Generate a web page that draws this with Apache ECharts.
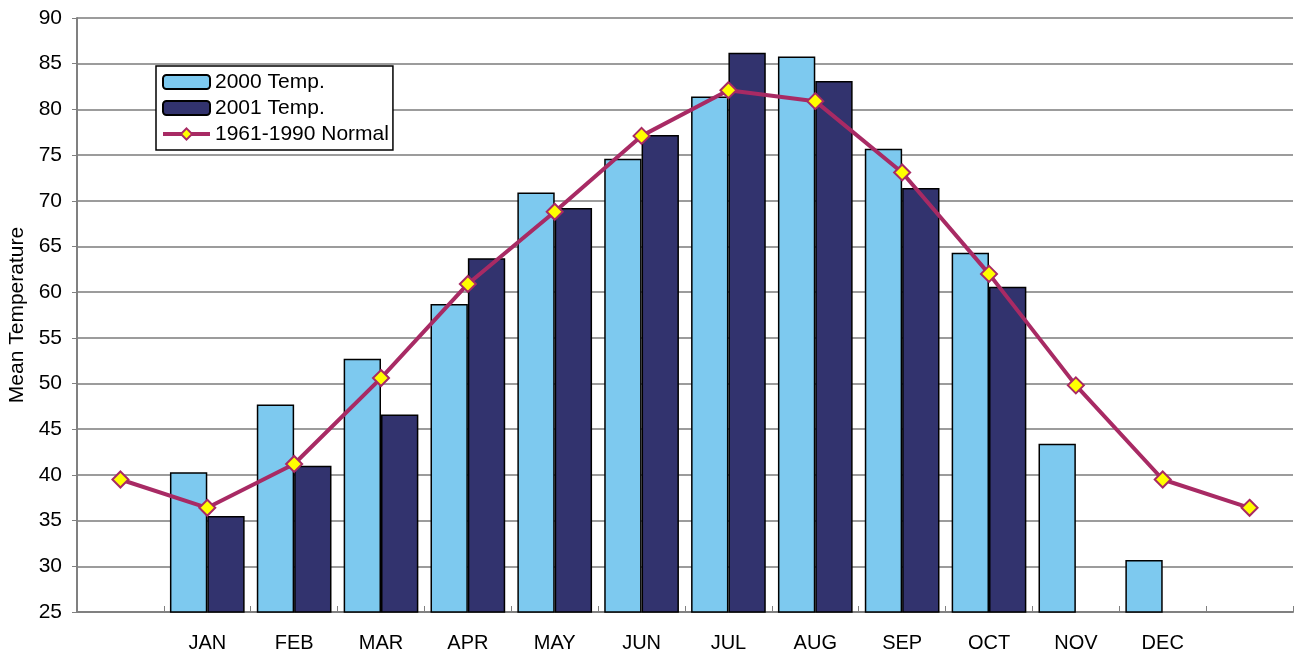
<!DOCTYPE html>
<html>
<head>
<meta charset="utf-8">
<script src="https://cdn.jsdelivr.net/npm/echarts@6.0.0/dist/echarts.min.js"></script>
<style>
  html, body { margin: 0; padding: 0; background: #fff; }
  #chart { width: 1294px; height: 656px; }
</style>
</head>
<body>
<div id="chart"></div>
<script>
// months, with an empty slot on each side like the original sheet
var months = ['JAN', 'FEB', 'MAR', 'APR', 'MAY', 'JUN', 'JUL', 'AUG', 'SEP', 'OCT', 'NOV', 'DEC'];
var categories = [''].concat(months, ['']);

var temp2000 = [null, 40.3, 47.7, 52.7, 58.7, 70.9, 74.6, 81.4, 85.8, 75.7, 64.3, 43.4, 30.7, null];
var temp2001 = [null, 35.5, 41.0, 46.6, 63.7, 69.2, 77.2, 86.2, 83.1, 71.4, 60.6, null, null, null];
var normal = [39.5, 36.4, 41.2, 50.6, 60.9, 68.8, 77.1, 82.1, 80.9, 73.1, 62.0, 49.8, 39.5, 36.4];

var yTicks = { min: 25, max: 90, step: 5 };

var font = 'Liberation Sans, Arial, sans-serif';

var chart = echarts.init(document.getElementById('chart'));

var option = {
  backgroundColor: '#fff',
  textStyle: { fontFamily: font },
  animation: false,
  grid: {
    left: 77,
    right: 1,
    top: 18,
    bottom: 44,
    containLabel: false,
    outerBoundsMode: 'none'
  },
  legend: {
    orient: 'vertical',
    left: 156,
    top: 66,
    backgroundColor: '#fff',
    borderColor: '#000',
    borderWidth: 1.5,
    padding: [5, 4, 5, 5],
    itemWidth: 47,
    itemHeight: 14,
    itemGap: 4,
    lineStyle: { width: 4 },
    textStyle: { fontSize: 21, color: '#000', fontFamily: font, lineHeight: 22 },
    data: ['2000 Temp.', '2001 Temp.', '1961-1990 Normal']
  },
  xAxis: {
    type: 'category',
    data: categories,
    boundaryGap: true,
    axisLine: { lineStyle: { color: '#808080', width: 2 } },
    axisTick: { show: true, inside: true, length: 6, lineStyle: { color: '#808080', width: 1 } },
    axisLabel: { color: '#000', fontSize: 20, margin: 21, fontFamily: font, interval: 0 },
    splitLine: { show: false }
  },
  yAxis: {
    type: 'value',
    min: yTicks.min,
    max: yTicks.max,
    interval: yTicks.step,
    name: 'Mean Temperature',
    nameLocation: 'middle',
    nameRotate: 90,
    nameGap: 49,
    nameTextStyle: { fontSize: 21, color: '#000', fontFamily: font },
    axisLine: { show: true, lineStyle: { color: '#808080', width: 2 } },
    axisTick: { show: true, inside: false, length: 5, lineStyle: { color: '#808080', width: 1 } },
    axisLabel: { color: '#000', fontSize: 21, margin: 15, fontFamily: font },
    splitLine: { show: true, lineStyle: { color: '#9c9c9c', width: 2 } }
  },
  series: [
    {
      name: '2000 Temp.',
      type: 'bar',
      data: temp2000,
      barGap: '0%',
      barCategoryGap: '14%',
      itemStyle: { color: '#7dc9ef', borderColor: '#000', borderWidth: 1.5 }
    },
    {
      name: '2001 Temp.',
      type: 'bar',
      data: temp2001,
      barGap: '0%',
      barCategoryGap: '14%',
      itemStyle: { color: '#32336e', borderColor: '#000', borderWidth: 1.5 }
    },
    {
      name: '1961-1990 Normal',
      type: 'line',
      data: normal,
      symbol: 'diamond',
      symbolSize: 16,
      showAllSymbol: true,
      z: 5,
      lineStyle: { color: '#a82a64', width: 4 },
      itemStyle: { color: '#ffff00', borderColor: '#a82a64', borderWidth: 2 }
    }
  ]
};

chart.setOption(option);
</script>
</body>
</html>
